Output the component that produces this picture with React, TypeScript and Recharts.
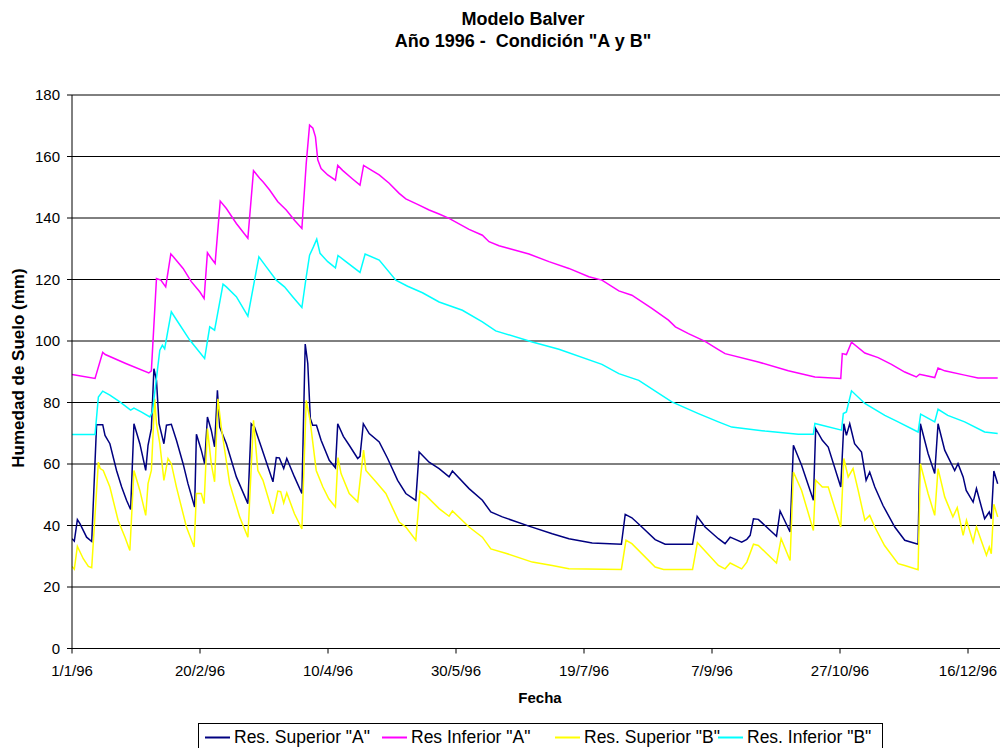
import React from "react";
import { LineChart, Line, XAxis, YAxis, CartesianGrid } from "recharts";

const FONT = '"Liberation Sans", Arial, sans-serif';

const TITLE_1 = "Modelo Balver";
const TITLE_2 = 'Año 1996 -  Condición "A y B"';
const X_TITLE = "Fecha";
const Y_TITLE = "Humedad de Suelo (mm)";

const X_TICKS = [0, 50, 100, 150, 200, 250, 300, 350];
const X_TICK_LABELS = ["1/1/96", "20/2/96", "10/4/96", "30/5/96", "19/7/96", "7/9/96", "27/10/96", "16/12/96"];
const Y_TICKS = [0, 20, 40, 60, 80, 100, 120, 140, 160, 180];

const SERIES_NAMES = ['Res. Superior "A"', 'Res Inferior "A"', 'Res. Superior "B"', 'Res. Inferior "B"'];
const SERIES_COLORS = ["#000080", "#FF00FF", "#FFFF00", "#00FFFF"];

// Res. Superior "A" (day of year, value)
const supA_days = [0, 0.9, 2.1, 3.1, 5.7, 7.7, 9.6, 12, 12.9, 14.8, 17.4, 19.4, 21.3, 22.9, 24.2, 26.5, 28.8, 29.7, 31, 32, 33, 34, 35.9, 36.9, 38.8, 40.8, 43.4, 45.3, 47.9, 48.6, 50.5, 51.8, 52.9, 54.4, 55.7, 56.8, 57.7, 60.3, 64.2, 68.7, 70, 71.3, 73.9, 78.5, 79.8, 81, 82.7, 83.9, 86.9, 89.8, 91.1, 92.1, 93.1, 94, 95.5, 97.3, 100.5, 102.9, 103.8, 106, 108.3, 111.6, 112.5, 113.8, 116.1, 120, 123.3, 127.2, 130.4, 134.3, 135.6, 139.5, 143.4, 147.3, 148.6, 155.1, 160.3, 163.6, 168.1, 178.5, 187.6, 194.1, 203.2, 214.6, 216.1, 218.7, 222.6, 227.8, 231.7, 242.4, 244.2, 247.3, 252.5, 255.1, 257.1, 261.6, 263.6, 264.9, 266.2, 268.1, 275.2, 276.6, 280.5, 281.8, 285, 289.6, 290.5, 293.1, 295.4, 300.3, 301.5, 302.5, 303.8, 305.7, 308.4, 310.2, 311.6, 313.6, 316.8, 321.4, 325.3, 330.5, 331.4, 334.4, 337, 338.3, 340.9, 344.8, 346.1, 348.1, 349.3, 352, 353.3, 356.5, 358.3, 359.1, 360.1, 361.6];
const supA_vals = [35.7, 34.9, 41.9, 40.6, 36.2, 34.8, 72.8, 72.8, 69.3, 66.6, 57.9, 52.5, 48.2, 45.2, 73.1, 66.6, 57.9, 66.1, 71.5, 91, 87.2, 73.1, 66.6, 72.6, 72.9, 67.7, 60.1, 53.6, 46, 69.7, 64.5, 60.1, 75.3, 71, 65.6, 84, 72, 66.6, 55.8, 47.1, 73.1, 72, 65.6, 54.2, 62.1, 62, 58.5, 61.8, 55.8, 50.4, 99, 92.7, 74.8, 72.6, 72.6, 67.7, 61.2, 58.8, 73.1, 69, 66.1, 61.8, 62.5, 73.1, 69.9, 67.2, 61.8, 54.7, 50.4, 48.2, 63.9, 60.6, 58.5, 55.8, 57.7, 52, 48.2, 44.4, 42.8, 39.8, 37.3, 35.7, 34.3, 33.9, 43.6, 42.5, 39.5, 35.4, 33.9, 33.9, 43, 39.5, 35.7, 34.1, 36.2, 34.6, 35.5, 36.8, 42.2, 42, 36.5, 44.7, 37.9, 66.1, 59.6, 48.2, 71.5, 67.7, 65.5, 52.5, 73.1, 69.3, 73.1, 66.6, 63.9, 54.7, 57.4, 52.5, 46.5, 39.5, 35.2, 33.9, 73.1, 63.4, 56.9, 73.1, 64.5, 57.9, 60.1, 55.8, 51.4, 47.6, 52, 42.2, 44.4, 42.2, 57.7, 53.6];

// Res Inferior "A"
const infA_days = [0, 9, 12, 13, 21, 30, 31, 33, 34.7, 36.6, 38.6, 39.5, 43.4, 46.6, 49.9, 51.6, 52.9, 54.4, 55.9, 57.9, 60.3, 64.2, 68.7, 70.9, 73.3, 74.6, 77.2, 80.4, 83.7, 86.9, 89.8, 91.5, 92.8, 94.1, 95.1, 96, 97.3, 99.9, 102.9, 103.8, 105.7, 109.6, 112.5, 113.9, 117.4, 120, 123.9, 127.8, 130.4, 135.6, 139.5, 143.4, 147.3, 155.1, 160.3, 162.9, 166.8, 170.7, 178.5, 186.3, 194.1, 201.9, 207, 213.6, 218.7, 226.5, 233, 235.7, 240.8, 247.3, 252.5, 255.1, 268.1, 279.8, 290.2, 300.3, 300.9, 302.5, 304.5, 309.7, 314.9, 320.1, 325.3, 329.8, 331.1, 337, 338.3, 340.9, 348.7, 353.9, 361.6];
const infA_vals = [89.1, 87.8, 96.3, 95.6, 92.7, 89.6, 90.3, 120.3, 119.8, 117.6, 128.3, 127.5, 123.6, 119.3, 116, 113.8, 128.7, 126.9, 125.2, 145.5, 143.1, 138.2, 133.4, 155.4, 152.9, 151.8, 149.1, 145.3, 142.6, 139.3, 136.6, 157.8, 170.2, 169.2, 166.4, 158.9, 156.1, 154, 152.3, 157.1, 155.5, 152.7, 150.7, 157.1, 155.3, 154, 151.3, 148, 146.2, 144.2, 142.6, 141.3, 139.9, 136.3, 134.4, 132.3, 131, 130.1, 128.3, 125.8, 123.6, 120.9, 119.8, 116.3, 114.9, 110.6, 106.8, 104.6, 102.4, 99.9, 97.2, 95.9, 93.2, 90.3, 88.3, 87.8, 95.9, 95.6, 99.6, 96.1, 94.6, 92.4, 89.9, 88.3, 89.2, 88.1, 91.2, 90.3, 88.9, 88, 88];

// Res. Superior "B"
const supB_days = [0, 0.9, 2.1, 4.4, 6.4, 7.7, 10.3, 11, 12.2, 14.8, 18, 20.7, 22.6, 24.2, 26.5, 28.8, 29.7, 31, 32.3, 33, 34.3, 35.9, 37.5, 38.8, 40.8, 44.7, 47.7, 48.6, 50.5, 51.6, 52.9, 54.4, 55.7, 57, 58.3, 61.6, 65.5, 68.7, 70.9, 72.6, 74.6, 78.5, 80.4, 81.5, 82.7, 83.9, 86.9, 89.8, 91.5, 93, 95.4, 98, 100.3, 102.9, 103.9, 105.1, 108.3, 111.6, 113.9, 114.8, 118.7, 122.6, 127.8, 130.4, 134.3, 135.9, 138.2, 143.4, 147.3, 148.6, 155.1, 160.3, 163.6, 169.4, 179.8, 187.6, 194.1, 214.6, 216.4, 218.7, 227.8, 231.1, 242.4, 244.3, 252.5, 255.1, 257.1, 261.6, 263.6, 266.2, 268.1, 275.2, 277, 280.5, 281.8, 285, 289.6, 290.5, 293.1, 295.4, 300.3, 301.5, 303.2, 305.1, 307.1, 309.7, 311.6, 313.6, 317.4, 322.7, 325.3, 330.5, 331.4, 334.4, 337, 338.3, 340.9, 344.1, 345.8, 348.1, 349.4, 352, 353.3, 357.2, 358.3, 359.1, 360.1, 361.6];
const supB_vals = [26.7, 25.8, 33.2, 29.2, 26.7, 26.3, 60.6, 58.5, 57.9, 52.5, 41.7, 36.2, 31.9, 57.9, 51.4, 43.3, 53.6, 57.9, 81.2, 73.1, 66.6, 54.7, 61.8, 60.1, 52.5, 39.5, 33, 50.4, 50.4, 47.1, 71.5, 60.1, 54.2, 81.2, 72, 53.6, 42.8, 36.2, 74.2, 57.9, 54.7, 43.8, 51.2, 51, 47.3, 50.6, 43.8, 38.9, 80.7, 74.2, 57.9, 52.5, 48.7, 46, 62.1, 56.9, 50.4, 47.7, 64.5, 57.9, 54.2, 50.4, 41.1, 39.5, 35.2, 51.1, 49.8, 45.5, 43, 44.7, 39.5, 36.2, 32.4, 31, 28.1, 27, 25.9, 25.7, 35.2, 34.1, 26.5, 25.7, 25.7, 34.4, 27, 25.9, 27.8, 25.9, 28.1, 33.9, 33.5, 27.8, 35.7, 28.6, 57.4, 51.4, 38.4, 54.7, 52.5, 52.5, 39.5, 61.8, 55.8, 58.5, 51.4, 41.7, 43.3, 39.5, 33.5, 27.6, 27, 25.6, 60.1, 50.4, 43.3, 58.5, 49.3, 42.8, 45.8, 36.8, 41.7, 34.6, 39.5, 30.3, 33, 30.8, 46.9, 42.8];

// Res. Inferior "B"
const infB_days = [0, 9, 10.3, 12, 14.8, 18.7, 22.9, 24.2, 27.2, 30.4, 31.4, 34.3, 35.3, 36.2, 37.5, 38.8, 40.1, 46, 51.8, 53.8, 55.7, 59, 60.3, 64.2, 68.7, 73, 75.9, 79.8, 83, 86.2, 89.8, 91.5, 92.8, 94.3, 95.6, 96.9, 99.9, 102.9, 103.9, 107, 112.5, 114.5, 120, 126.5, 131.1, 136.9, 143.4, 152.5, 160.3, 165.5, 179.8, 190.2, 207, 213.6, 221.4, 234.3, 244.7, 252.5, 257.7, 270.7, 283.7, 289.6, 290.2, 300.6, 301.3, 302.5, 304.5, 309.7, 317.5, 322.7, 330.5, 331.5, 337, 338.3, 342.1, 348.7, 356.5, 361.6];
const infB_vals = [69.6, 69.6, 81.8, 83.7, 82.4, 80.2, 77.5, 78.2, 76.9, 75.3, 76.9, 97, 98.6, 97.5, 103.5, 109.5, 107.8, 100.3, 94.3, 104.6, 103.5, 118.5, 117.6, 114.4, 108.1, 127.4, 124.1, 119.8, 117.6, 114.4, 110.9, 120.9, 127.9, 130.6, 133.1, 128.5, 125.8, 123.8, 127.8, 125.8, 122.3, 128.3, 126.3, 119.8, 117.8, 115.7, 112.7, 110, 106.2, 103.3, 99.7, 97.3, 92.4, 89.4, 87.2, 80.2, 76.4, 73.7, 72, 70.7, 69.7, 69.7, 73.2, 71, 76.4, 76.9, 83.8, 79.7, 75.8, 73.7, 70.4, 76.2, 73.7, 77.8, 75.8, 73.7, 70.4, 69.9];

const build = (days: number[], vals: number[]) => days.map((d, i) => ({ day: d, v: vals[i] }));

const SERIES_DATA = [
  build(supA_days, supA_vals),
  build(infA_days, infA_vals),
  build(supB_days, supB_vals),
  build(infB_days, infB_vals),
];

const LEGEND_LINE_X = [205, 382, 555, 718];

export default function App() {
  return (
    <div
      style={{
        position: "absolute",
        left: 0,
        top: 0,
        width: 1000,
        height: 748,
        overflow: "hidden",
        background: "#fff",
        fontFamily: FONT,
      }}
    >
      <div style={{ position: "absolute", left: 0, top: 0 }}>
        <LineChart width={1040} height={748} margin={{ top: 95, right: 33.6, bottom: 69.5, left: 12 }}>
          <CartesianGrid vertical={false} stroke="#000" strokeWidth={1} />
          <XAxis
            type="number"
            dataKey="day"
            domain={[0, 365]}
            allowDataOverflow
            ticks={X_TICKS}
            tickFormatter={(v: number) => X_TICK_LABELS[X_TICKS.indexOf(v)] ?? ""}
            height={30}
            stroke="#000"
            tickSize={5}
            tickMargin={12}
            tick={{ fill: "#000", fontSize: 15, fontFamily: FONT }}
            interval={0}
          />
          <YAxis
            type="number"
            domain={[0, 180]}
            ticks={Y_TICKS}
            width={60}
            stroke="#000"
            tickSize={5}
            tickMargin={7}
            tick={{ fill: "#000", fontSize: 15, fontFamily: FONT }}
            interval={0}
          />
          {SERIES_DATA.map((data, i) => (
            <Line
              key={SERIES_NAMES[i]}
              data={data}
              dataKey="v"
              name={SERIES_NAMES[i]}
              type="linear"
              stroke={SERIES_COLORS[i]}
              strokeWidth={1.5}
              dot={false}
              activeDot={false}
              isAnimationActive={false}
            />
          ))}
        </LineChart>
      </div>
      <svg
        width={1000}
        height={748}
        style={{ position: "absolute", left: 0, top: 0, pointerEvents: "none" }}
      >
        <text x={523} y={25} textAnchor="middle" fontFamily={FONT} fontWeight="bold" fontSize={18} fill="#000" style={{ whiteSpace: "pre" }}>
          {TITLE_1}
        </text>
        <text x={523} y={46.5} textAnchor="middle" fontFamily={FONT} fontWeight="bold" fontSize={18} fill="#000" style={{ whiteSpace: "pre" }}>
          {TITLE_2}
        </text>
        <text x={540} y={703} textAnchor="middle" fontFamily={FONT} fontWeight="bold" fontSize={15} fill="#000">
          {X_TITLE}
        </text>
        <text
          x={0}
          y={0}
          transform="translate(24,368) rotate(-90)"
          textAnchor="middle"
          fontFamily={FONT}
          fontWeight="bold"
          fontSize={17}
          fill="#000"
        >
          {Y_TITLE}
        </text>
        <rect x={198.5} y={723.5} width={684} height={40} fill="none" stroke="#000" strokeWidth={1} />
        {SERIES_NAMES.map((n, i) => (
          <g key={n}>
            <line x1={LEGEND_LINE_X[i]} x2={LEGEND_LINE_X[i] + 25} y1={737.5} y2={737.5} stroke={SERIES_COLORS[i]} strokeWidth={2} />
            <text x={LEGEND_LINE_X[i] + 29} y={743.3} fontFamily={FONT} fontSize={17.5} fill="#000">
              {n}
            </text>
          </g>
        ))}
      </svg>
    </div>
  );
}
